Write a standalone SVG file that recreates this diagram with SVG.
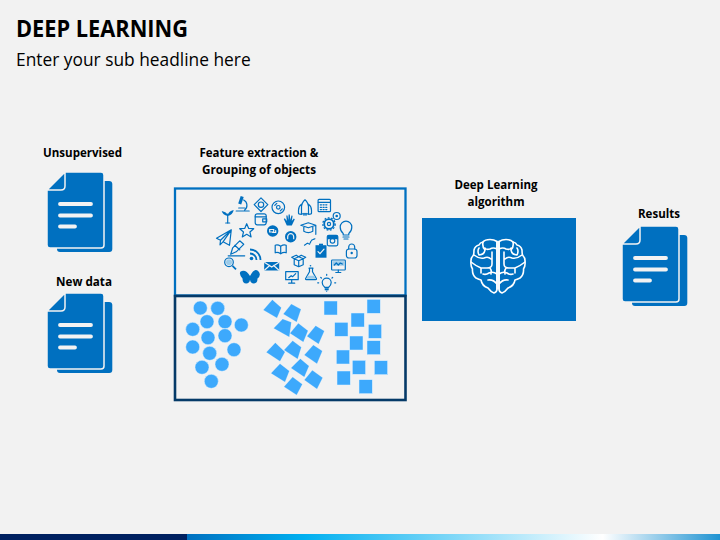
<svg xmlns="http://www.w3.org/2000/svg" width="720" height="540" viewBox="0 0 720 540">
<style>
text{font-family:"Open Sans","Liberation Sans",sans-serif;fill:#000}
.t{font-size:24px;font-weight:700}
.s{font-size:17.35px}
.l{font-size:12.3px;font-weight:700;text-anchor:middle}
.o{fill:none;stroke:#0070c0;stroke-width:1.2;stroke-linecap:round;stroke-linejoin:round}
.f{fill:#0070c0}
.w{fill:none;stroke:#f2f2f2;stroke-width:1.2;stroke-linecap:round}
.c circle,.p polygon,.q rect{fill:#3da9fc;stroke:#e4f2fd;stroke-width:.5}
.b{fill:none;stroke:#fff;stroke-width:1.6;stroke-linecap:round;stroke-linejoin:round}
</style>
<defs>
<linearGradient id="g" x1="0" x2="1" y1="0" y2="0">
<stop offset="0" stop-color="#0070c0"/><stop offset=".22" stop-color="#00b0f0"/><stop offset=".78" stop-color="#fff"/><stop offset="1" stop-color="#1f93d2"/>
</linearGradient>
<g id="doc">
<path class="f" d="M12 9h50q3.300 0 3.300 3v65q0 3-3 3H13q-3 0-3-3V9z"/>
<path class="f" stroke="#f2f2f2" stroke-width="1.500" d="M18 0h36q3 0 3 3v70q0 3-3 3H3q-3 0-3-3V18z"/>
<path fill="#0070c0" stroke="#f2f2f2" stroke-width="1.500" stroke-linejoin="round" d="M18 0v14q0 4-4 4H0z"/>
<path fill="none" stroke="#f2f2f2" stroke-width="3.800" stroke-linecap="round" d="M13 32h31M13 43.500h31M13 54.500h15"/>
</g>
</defs>
<rect width="720" height="540" fill="#f2f2f2"/>
<g id="footer">
<rect x="0" y="534" width="187" height="6" fill="#002060"/>
<rect x="187" y="534" width="533" height="6" fill="url(#g)"/>
</g>
<text class="t" x="16" y="37" textLength="172" lengthAdjust="spacingAndGlyphs">DEEP LEARNING</text>
<text class="s" x="16" y="65.500">Enter your sub headline here</text>

<g id="connectors"></g>

<g id="unsupervised">
<text class="l" x="82.500" y="157" textLength="79" lengthAdjust="spacingAndGlyphs">Unsupervised</text>
<use href="#doc" x="47" y="172"/>
</g>
<g id="new-data">
<text class="l" x="84" y="286" textLength="56" lengthAdjust="spacingAndGlyphs">New data</text>
<use href="#doc" x="47" y="293"/>
</g>
<g id="results">
<text class="l" x="659" y="218" textLength="42" lengthAdjust="spacingAndGlyphs">Results</text>
<use href="#doc" x="622" y="226"/>
</g>

<g id="feature">
<text class="l" x="259" y="157" textLength="119" lengthAdjust="spacingAndGlyphs">Feature extraction &amp;</text>
<text class="l" x="259" y="174" textLength="114" lengthAdjust="spacingAndGlyphs">Grouping of objects</text>
<rect x="175" y="188.500" width="230.500" height="107" fill="none" stroke="#0070c0" stroke-width="2.300"/>
<!-- microscope -->
<g transform="translate(242.700 204)"><path class="f" d="M-2-8l3 1-2.500 7.500-3-1z"/><path class="o" d="M1-4a6 6 0 0 1 1 10M-6.500 7H6.500"/><path class="o" d="M-4 4h6"/></g>
<!-- diamond -->
<g transform="translate(261 204.700)"><path class="o" d="M0-6.800L6.800 0 0 6.800-6.800 0z"/><circle class="o" r="2.700"/></g>
<!-- cd -->
<g transform="translate(278.300 207.300)"><circle class="o" r="6.300"/><circle class="o" r="1.800"/><path class="o" d="M-3.500-2l2-2M2 3.500l2-2"/></g>
<!-- rocket -->
<g transform="translate(305 207.300)"><path class="o" d="M0-7.500q3.500 3 3.500 8v6h-7v-6Q-3.500-4.500 0-7.500zM-3.500-3q-3 2-3 6v3q0 1 3 1M3.500-3q3 2 3 6v3q0 1-3 1M-1 6v2M1 6v2"/></g>
<!-- calendar -->
<g transform="translate(324.300 205.300)"><rect class="o" x="-6.200" y="-6" width="12.400" height="12.400" rx="1"/><path class="o" d="M-6-3h12"/><path class="o" stroke-dasharray="1.200 1.500" d="M-4-.5h8M-4 2h8M-4 4.300h8"/></g>
<!-- plant -->
<g transform="translate(227.700 216)"><path class="o" d="M0 7V-2"/><path class="f" d="M0-1Q-1-4-6-5-5-1 0 0zM0-1Q1-5 6-6 5-1 0 0z"/><path class="o" d="M-2 7h4"/></g>
<!-- wallet -->
<g transform="translate(260.700 219.300)"><rect class="o" x="-5.500" y="-5.500" width="11" height="11" rx="2"/><path class="o" d="M-5.500-2.500h11M2 -.5h4v3H2z"/></g>
<!-- hand -->
<g transform="translate(289.300 220)"><path class="f" d="M-2.500 5.500L-5.500-1l1-.7L-2.500 1-3-4.500h1.200L-1 0-.7-5.500H.5L1 0 2.200-4.500l1.100.3L2.500 1 4.500-1.500l1 .7L2.500 5.500z"/></g>
<!-- grad cap -->
<g transform="translate(308.300 228.300)"><path class="o" d="M-7.500-3L0-5.500 7.500-3 0-.5zM-4.500-2V3Q0 5.500 4.500 3V-2M7.500-3V6"/></g>
<!-- gears -->
<g transform="translate(329 224)"><circle r="4.800" fill="none" stroke="#0070c0" stroke-width="1.800"/><circle r="6.200" fill="none" stroke="#0070c0" stroke-width="1.300" stroke-dasharray="1.800 1.600"/><circle class="o" r="1.600"/></g>
<g transform="translate(336.700 216)"><circle class="o" r="3.500"/><circle class="f" r="1.300"/></g>
<!-- bulb -->
<g transform="translate(346 230)"><path class="o" d="M-2.800 5v-1.500Q-5.800 1-5.800-3A5.800 5.800 0 0 1 5.800-3q0 4-3 6.500V5zM-3 7h6M-2 9h4"/></g>
<!-- paper plane -->
<g transform="translate(224 237.300)"><path class="o" d="M-7.500 1L7.300-7.500 5.500 8-1 4.500-4 7.500-3.500 3zM-3.500 3L7.300-7.500M-1 4.500L7.300-7.500"/></g>
<!-- star -->
<g transform="translate(246.700 230.700)"><path class="o" d="M0-7L2-2.300 7-2 3.200 1.300 4.400 6.200 0 3.600-4.400 6.200-3.200 1.300-7-2-2-2.300z"/></g>
<!-- chat -->
<g transform="translate(272.700 231)"><circle class="f" r="5.700"/><path class="w" d="M-3-1.500h4v2.500h-4zM0 1.500h3V-.5"/></g>
<!-- headphones -->
<g transform="translate(290.700 236.700)"><circle class="f" r="5.700"/><path class="w" d="M-3 2V0A3 3 0 0 1 3 0V2"/></g>
<!-- graph -->
<g transform="translate(310 241.700)"><path class="o" d="M-5.500 3.500l3-2 2 1 2-4 3.500-1.500" stroke-dasharray="1.500 1"/></g>
<!-- instagram -->
<g transform="translate(332.300 240.300)"><rect class="o" x="-5" y="-5" width="10.500" height="10.500" rx="1.500"/><path class="f" d="M-5-3.500q0-1.500 1.500-1.500H4q1.500 0 1.500 1.500V-1H-5z"/><circle class="o" r="2.300" cy=".5" cx=".2"/></g>
<!-- clipboard -->
<g transform="translate(321 250.700)"><rect class="f" x="-5.500" y="-5.500" width="11" height="12.500"/><rect class="f" x="-2" y="-7" width="4" height="2"/><path class="w" d="M-3 1l2 2 4-4.500"/></g>
<!-- lock -->
<g transform="translate(351.700 251)"><rect class="o" x="-5.300" y="-2" width="10.600" height="9" rx="2.500"/><path class="o" d="M-3-2v-2A3 3 0 0 1 3-4v2"/><circle class="f" cy="2" r="1.200"/></g>
<!-- pen -->
<g transform="translate(236.700 248.300)"><path class="o" d="M-6 6L-4-.5 3-7.500 7-4-.5 3.500zM-2-3L3 1.500M-8.500 7.500H8"/></g>
<!-- rss -->
<g transform="translate(255 255)"><circle class="f" cx="-3.500" cy="3.500" r="1.800"/><path d="M-5-1.500a6.500 6.500 0 0 1 6.500 6.500M-5-5.500A10.500 10.500 0 0 1 5.500 5" fill="none" stroke="#0070c0" stroke-width="1.800"/></g>
<!-- book -->
<g transform="translate(280.700 249.300)"><path class="o" d="M0-3Q-3-5-5.500-4V3.500Q-3 2.500 0 4.500 3 2.500 5.500 3.500V-4Q3-5 0-3zM0-3V4.500"/></g>
<!-- box -->
<g transform="translate(298.700 260.700)"><path class="o" d="M-4.500-2L0-4 4.500-2V4L0 6-4.500 4zM-4.500-2L0 0 4.500-2M0 0V6M-4.500-2L-7-3.500-2.500-5.500 0-4 2.500-5.500 7-3.500 4.500-2"/></g>
<!-- magnifier -->
<g transform="translate(230 263.300)"><circle class="o" cx="-1" cy="-1" r="4.300"/><circle cx="-1" cy="-1" r="3" fill="#9ccbe9"/><path d="M2.500 2.500l3.500 3.500" stroke="#0070c0" stroke-width="1.700"/></g>
<!-- envelope -->
<g transform="translate(271.700 266)"><rect class="f" x="-7.500" y="-4" width="15" height="8.500"/><path class="w" d="M-7-3.500L0 1 7-3.500M-7 4L-2-.5M7 4L2-.5"/></g>
<!-- monitor -->
<g transform="translate(338.300 266)"><rect class="o" x="-6.700" y="-6" width="13.700" height="10" rx=".8"/><rect x="-5.500" y="-4.800" width="11.300" height="4.500" fill="#9ccbe9"/><path class="o" d="M-4-1l2-2 2 2 2-2 2 1M-2.500 6.500h5M0 4v2.500"/></g>
<!-- butterfly -->
<g transform="translate(250 277.300) scale(1.250)"><path class="f" d="M0-1Q-3-6-6.500-5T-6 1Q-6 5-3 5-.5 5 0 2 .5 5 3 5 6 5 6 1 9.500-2 6.500-5T0-1z"/></g>
<!-- presentation -->
<g transform="translate(291.700 276.700)"><rect class="o" x="-6" y="-5" width="12.500" height="8"/><path class="o" d="M-3 1L-.5-1 1 0 4-3M0 3v3M-3 6.500h6"/></g>
<!-- flask -->
<g transform="translate(311 272.700)"><path class="o" d="M-2-4.500h4M-1.500-4.500V-1L-5.500 6q0 1 1 1H4.500q1 0 1-1L1.500-1V-4.500"/><path d="M-3.500 3h7l1 3h-9z" fill="#9ccbe9"/><circle class="f" cx="-.5" cy="-7" r=".8"/></g>
<!-- idea bulb -->
<g transform="translate(326.700 283.300)"><path class="o" d="M-2 4Q-4.500 2-4.500-.7A4.500 4.500 0 0 1 4.500-.7Q4.500 2 2 4z"/><path class="f" d="M-2 5h4v2H-2zM-1 7.500h2l-1 1.200z"/><path class="o" d="M-9-.5h1M8-.5h1M-6-6l.7.700M6-6l-.7.700M0-9v1"/></g>
</g>

<g id="grouping">
<rect x="175" y="296" width="230.500" height="104" fill="none" stroke="#053a68" stroke-width="2.600"/>
<g class="c">
<circle cx="200.300" cy="308" r="7"/><circle cx="217.700" cy="308.300" r="7"/><circle cx="207" cy="321.700" r="7"/><circle cx="225" cy="321.700" r="7"/><circle cx="241.300" cy="325" r="7"/><circle cx="192.700" cy="329.300" r="7"/><circle cx="208" cy="337.700" r="7"/><circle cx="225" cy="335.700" r="7"/><circle cx="192.700" cy="347" r="7"/><circle cx="234" cy="349.700" r="7"/><circle cx="209.700" cy="353.300" r="7"/><circle cx="202" cy="367.300" r="7"/><circle cx="222" cy="364.300" r="7"/><circle cx="211.300" cy="381.300" r="7"/>
</g>
<g class="p" transform="translate(170 290) scale(.3333)">
<polygon points="307,29 334,53 321,84 280,60"/><polygon points="364,42 393,58 380,96 340,72"/><polygon points="338,87 364,97 358,141 311,115"/><polygon points="385,100 414,122 400,156 360,130"/><polygon points="437,107 463,123 446,162 411,139"/><polygon points="316,158 345,186 330,214 289,187"/><polygon points="368,152 394,172 383,207 342,180"/><polygon points="430,165 457,183 441,221 403,195"/><polygon points="330,221 358,243 345,276 303,250"/><polygon points="391,206 417,228 403,261 363,234"/><polygon points="427,241 458,263 441,297 403,270"/><polygon points="368,261 397,283 380,315 342,290"/>
</g>
<g class="q">
<rect x="324" y="301" width="13.300" height="14"/><rect x="367" y="299.300" width="13.300" height="14"/><rect x="351" y="313" width="13.300" height="14"/><rect x="334.700" y="322.300" width="13.300" height="14"/><rect x="368.300" y="324.300" width="13.300" height="14"/><rect x="349.700" y="336" width="13.300" height="14"/><rect x="367" y="340.700" width="13.300" height="14"/><rect x="336.300" y="350" width="13.300" height="14"/><rect x="352.300" y="360.300" width="13.300" height="14"/><rect x="374.300" y="360.700" width="13.300" height="14"/><rect x="337" y="371" width="13.300" height="14"/><rect x="359" y="379.700" width="13.300" height="14"/>
</g>
</g>

<g id="algorithm">
<text class="l" x="496" y="189" textLength="83" lengthAdjust="spacingAndGlyphs">Deep Learning</text>
<text class="l" x="496" y="206" textLength="57" lengthAdjust="spacingAndGlyphs">algorithm</text>
<rect x="422" y="218" width="154" height="103" fill="#0070c0"/>
<g class="b" transform="translate(498 240)">
<path d="M-1 1.500Q-4-.5-8-.5-13-.5-15 2-18 2.500-19 5-23 6-24 10-24 13-24.500 15-27.500 18-27 22-27.500 26-25.500 29-26 35-22 38-19 39.500-17 40-16 46-10 48-7 52-4 53-1 52-1 49z"/>
<path d="M-1 1.500V49M-1 9Q-5 7-8 9-12 10-13 8M-15 2Q-16 7-13 10-14 15-19 15M-19 8Q-21 11-19 15M-24 15Q-19 19-14 18-10 16-7 19M-6 12V24Q-6 28-11 28H-17V33M-27 22Q-22 26-17 28M-1 34Q-5 31-9 33-12 35-15 34M-1 44Q-5 39-10 40M-8 28Q-6 31-7 34"/>
<path d="M1 1.500Q4-.5 8-.5 13-.5 15 2 18 2.500 19 5 23 6 24 10 24 13 24.500 15 27.500 18 27 22 27.500 26 25.500 29 26 35 22 38 19 39.500 17 40 16 46 10 48 7 52 4 53 1 52 1 49z"/>
<path d="M1 1.500V49M1 9Q5 7 8 9 12 10 13 8M15 2Q16 7 13 10 14 15 19 15M19 8Q21 11 19 15M24 15Q19 19 14 18 10 16 7 19M6 12V24Q6 28 11 28H17V33M27 22Q22 26 17 28M1 34Q5 31 9 33 12 35 15 34M1 44Q5 39 10 40M8 28Q6 31 7 34"/>
</g>
</g>
</svg>
